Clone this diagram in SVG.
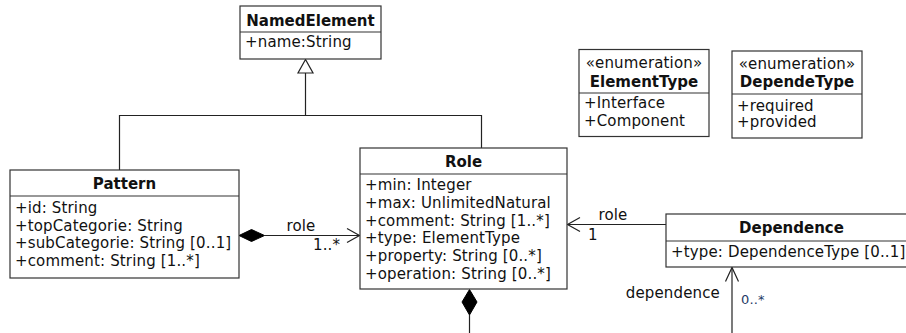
<svg xmlns="http://www.w3.org/2000/svg" width="906" height="333" viewBox="0 0 906 333">
  <style>
    text { font-family: "DejaVu Sans", "Liberation Sans", sans-serif; font-size: 15px; fill: #111; letter-spacing: 0.15px; }
    .title { font-weight: bold; text-anchor: middle; letter-spacing: 0; }
    .stereo { text-anchor: middle; }
    .mid { text-anchor: middle; }
    .end { text-anchor: end; }
    .mult-small { font-size: 13px; fill: #1f3a66; }
    .box { fill: #fff; stroke: #333; stroke-width: 1.2; }
    .sep { stroke: #333; stroke-width: 1.2; }
    .edge { fill: none; stroke: #222; stroke-width: 1.2; }
    .open-head { fill: none; stroke: #222; stroke-width: 1.2; }
    .diamond { fill: #000; stroke: #000; stroke-width: 1; }
    .hollow { fill: #fff; stroke: #222; stroke-width: 1.2; }
  </style>

  <!-- connectors -->
  <g id="connectors">
    <!-- generalization: Pattern and Role specialise NamedElement -->
    <polyline class="edge" points="119.5,170 119.5,115.5 481.5,115.5 481.5,148"/>
    <line class="edge" x1="305.5" y1="115.5" x2="305.5" y2="73"/>
    <polygon class="hollow" points="305.5,59.5 298,73 313,73"/>

    <!-- Pattern <>-> Role (role 1..*) -->
    <line class="edge" x1="264.5" y1="235.5" x2="359.5" y2="235.5"/>
    <polygon class="diamond" points="239,235.5 251.5,229.5 264.5,235.5 251.5,241.5"/>
    <polyline class="open-head" points="347,228.5 359.5,235.5 347,242.5"/>
    <text class="mid" x="301" y="231">role</text>
    <text x="313" y="249.5">1..*</text>

    <!-- Dependence -> Role (role 1) -->
    <line class="edge" x1="567" y1="224.5" x2="666" y2="224.5"/>
    <polyline class="open-head" points="580,217.5 567.5,224.5 580,231.5"/>
    <text class="mid" x="613" y="220">role</text>
    <text x="588" y="240">1</text>

    <!-- composition hanging below Role -->
    <line class="edge" x1="469.5" y1="315" x2="469.5" y2="333"/>
    <polygon class="diamond" points="469.5,289.5 477,302 469.5,315 462,302"/>

    <!-- association up into Dependence (dependence 0..*) -->
    <line class="edge" x1="732" y1="267.5" x2="732" y2="333"/>
    <polyline class="open-head" points="725.5,281.5 732,267.5 738.5,281.5"/>
    <text class="end" x="720" y="298">dependence</text>
    <text class="mult-small" x="741" y="304">0..*</text>
  </g>

  <!-- NamedElement -->
  <g id="NamedElement">
    <rect class="box" x="240" y="6" width="141" height="53"/>
    <line class="sep" x1="240" y1="32" x2="381" y2="32"/>
    <text class="title" x="310.5" y="26">NamedElement</text>
    <text x="245" y="47">+name:String</text>
  </g>

  <!-- Pattern -->
  <g id="Pattern">
    <rect class="box" x="10" y="170" width="229" height="108"/>
    <line class="sep" x1="10" y1="196" x2="239" y2="196"/>
    <text class="title" x="124.5" y="189">Pattern</text>
    <text x="15" y="213">+id: String</text>
    <text x="15" y="230.5">+topCategorie: String</text>
    <text x="15" y="248">+subCategorie: String [0..1]</text>
    <text x="15" y="265.5">+comment: String [1..*]</text>
  </g>

  <!-- Role -->
  <g id="Role">
    <rect class="box" x="360" y="148" width="207" height="141"/>
    <line class="sep" x1="360" y1="174" x2="567" y2="174"/>
    <text class="title" x="463.5" y="167">Role</text>
    <text x="365" y="190">+min: Integer</text>
    <text x="365" y="207.8">+max: UnlimitedNatural</text>
    <text x="365" y="225.5">+comment: String [1..*]</text>
    <text x="365" y="243.3">+type: ElementType</text>
    <text x="365" y="261">+property: String [0..*]</text>
    <text x="365" y="278.8">+operation: String [0..*]</text>
  </g>

  <!-- ElementType enumeration -->
  <g id="ElementType">
    <rect class="box" x="579" y="49.5" width="130" height="87"/>
    <line class="sep" x1="579" y1="93" x2="709" y2="93"/>
    <text class="stereo" x="644" y="68.3">«enumeration»</text>
    <text class="title" x="644" y="86.7">ElementType</text>
    <text x="584" y="108.3">+Interface</text>
    <text x="584" y="126">+Component</text>
  </g>

  <!-- DependeType enumeration -->
  <g id="DependeType">
    <rect class="box" x="732" y="51" width="130" height="87"/>
    <line class="sep" x1="732" y1="94" x2="862" y2="94"/>
    <text class="stereo" x="797" y="69.3">«enumeration»</text>
    <text class="title" x="797" y="87.3">DependeType</text>
    <text x="737" y="110.5">+required</text>
    <text x="737" y="127.3">+provided</text>
  </g>

  <!-- Dependence -->
  <g id="Dependence">
    <rect class="box" x="666" y="214" width="251" height="53"/>
    <line class="sep" x1="666" y1="241" x2="917" y2="241"/>
    <text class="title" x="791.5" y="232.7">Dependence</text>
    <text x="671" y="256.7">+type: DependenceType [0..1]</text>
  </g>
</svg>
